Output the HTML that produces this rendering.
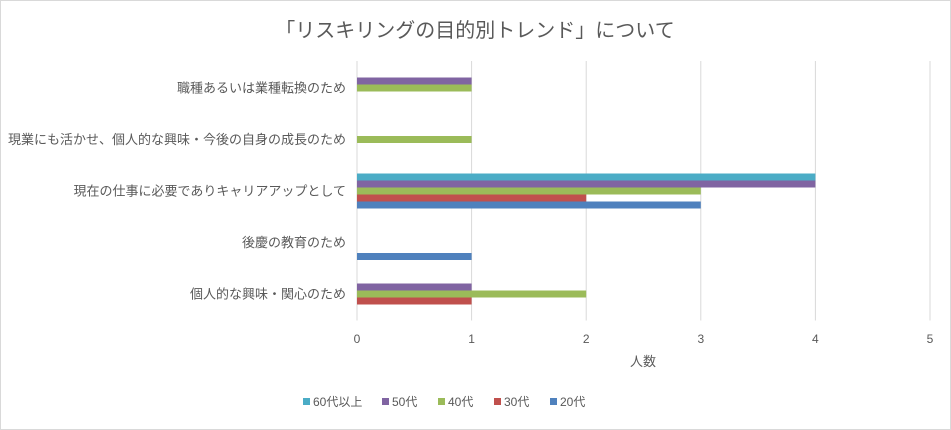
<!DOCTYPE html>
<html><head><meta charset="utf-8"><style>
body{margin:0;background:#fff;font-family:"Liberation Sans","Noto Sans CJK JP",sans-serif;}
#wrap{position:relative;width:951px;height:430px;overflow:hidden;}
</style></head><body>
<div id="wrap">
<svg id="chart" width="951" height="430" xmlns="http://www.w3.org/2000/svg">
<rect x="0.5" y="0.5" width="950" height="429" fill="#fff" stroke="#d9d9d9"/>
<text x="475" y="37" text-anchor="middle" font-size="20" fill="#595959" font-family="Liberation Sans, Noto Sans CJK JP, sans-serif">「リスキリングの目的別トレンド」について</text>
<g id="grid"></g><g id="bars"></g><g id="labels"></g>
<text x="643" y="366" text-anchor="middle" font-size="13" fill="#595959" font-family="Liberation Sans, Noto Sans CJK JP, sans-serif">人数</text>
<g id="legend"></g>
</svg>
</div>
<script>
const categories=["職種あるいは業種転換のため","現業にも活かせ、個人的な興味・今後の自身の成長のため","現在の仕事に必要でありキャリアアップとして","後慶の教育のため","個人的な興味・関心のため"];
const seriesNames=["60代以上","50代","40代","30代","20代"];
const s60=[0,0,4,0,0];
const s50=[1,0,4,0,1];
const s40=[1,1,3,0,2];
const s30=[0,0,2,0,1];
const s20=[0,0,3,1,0];
const xTicks=[0,1,2,3,4,5];
const colors=["#4BACC6","#8064A2","#9BBB59","#C0504D","#4F81BD"];
const series=[s60,s50,s40,s30,s20];
const NS="http://www.w3.org/2000/svg";
const x0=357,x1=930,xMax=5,plotTop=61,band=51.5,barH=7,off=9.5;
const xs=v=>x0+(x1-x0)*v/xMax;
const F="Liberation Sans, Noto Sans CJK JP, sans-serif";
function mk(t,a,p){const e=document.createElementNS(NS,t);for(const k in a)e.setAttribute(k,a[k]);p.appendChild(e);return e;}
const grid=document.getElementById('grid'),bars=document.getElementById('bars'),labels=document.getElementById('labels'),legend=document.getElementById('legend');
const plotBottom=plotTop+band*categories.length+2;
xTicks.forEach(t=>{
 const l=mk('line',{x1:xs(t),x2:xs(t),y1:plotTop,y2:plotBottom,stroke:'#d9d9d9','stroke-width':1},grid);
 
 
 const tx=mk('text',{x:xs(t),y:343,'text-anchor':'middle','font-size':12,fill:'#595959','font-family':F},labels);
 tx.textContent=t;
 
 
});
categories.forEach((c,i)=>{
 const y0=plotTop+band*i+off;
 const tx=mk('text',{x:346,y:y0+22,'text-anchor':'end','font-size':13,fill:'#595959','font-family':F},labels);
 tx.textContent=c;
 
 
 series.forEach((s,j)=>{
  if(s[i]<=0)return;
  const r=mk('rect',{x:x0,y:y0+j*barH,width:xs(s[i])-x0,height:barH,fill:colors[j]},bars);
  
  
 });
});
let lx=303;
seriesNames.forEach((n,j)=>{
 const g=mk('g',{},legend);
 
 
 mk('rect',{x:lx,y:398,width:7,height:7,fill:colors[j]},g);
 const t=mk('text',{x:lx+10,y:406,'font-size':12,fill:'#595959','font-family':F},g);
 t.textContent=n;
 lx+= j==0?79:56;
});
</script>
</body></html>
